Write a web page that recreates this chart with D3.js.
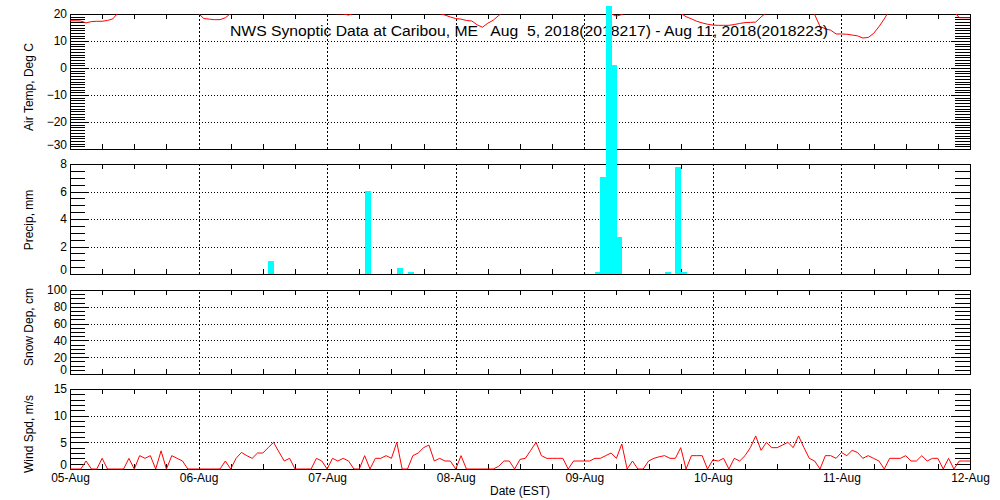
<!DOCTYPE html>
<html><head><meta charset="utf-8">
<script src="https://cdn.jsdelivr.net/npm/d3@7"></script>
<style>
body{margin:0;background:#fff}
svg text{font-family:"Liberation Sans",Arial,sans-serif;fill:#000}
</style>
</head><body>
<svg id="chart" width="1000" height="500"></svg>
<script>
// ---------- DATA (hourly, hour 0 = 05-Aug 00:00 EST) ----------
const dayLabels = ["05-Aug","06-Aug","07-Aug","08-Aug","09-Aug","10-Aug","11-Aug","12-Aug"];
const titleText = "NWS Synoptic Data at Caribou, ME   Aug  5, 2018(2018217) - Aug 11, 2018(2018223)";

const tempAug05 = [17.5,17.5,17.4,16.7,17.2,17.3,17.3,17.6,18.2,20.5,22,23.5,25,26,27,27.5,27.5,27,26,24.5,23,22,21,20.4];
const tempAug06 = [20.1,18.3,18.1,17.9,17.9,18.6,20.2,22,24,26,27.5,28.5,29,29.5,29.5,29,28,26.5,25,23.5,22,21,20.6,20.3];
const tempAug07 = [20.2,20.2,20.1,20.05,19.6,20.3,21.5,23,24.5,26,27,28,28.5,28.5,28,27,26,24.5,23,22,21,20.2,19.6,18.9];
const tempAug08 = [18.3,18.1,17.6,17.4,16.0,15.1,16.6,17.7,19.4,21,22.5,24,25.5,26.5,27.5,28,28.5,28.5,28,27,26,25,24,23];
const tempAug09 = [22.5,21.5,21,20.6,20.3,20.1,19.2,19.8,21,22,23,23.5,24,24,23.5,23,22,21,20.2,19.0,18.2,17.3,16.7,16.2];
const tempAug10 = [15.9,15.8,15.8,15.8,16.1,16.5,16.8,16.9,17.0,18.9,20.5,22,23,24,24.5,25,24.5,23.5,22,19.8,15.4,14.5,14.0,12.6];
const tempAug11 = [12.6,12.5,12.2,11.9,11.1,11.3,12.8,15.3,18.2,21.5,23,24.5,25.5,26.5,27,27,26.5,25.5,24,23,22,21,18.6,18.6];
const tempAug12 = [18.6];

const windAug05 = [0,0,0,1.5,0,0,2.0,0,0,0,0,2.0,0,2.5,2.0,2.5,0,3.4,0,2.5,2.0,1.5,0,0];
const windAug06 = [0,0,0,0,0,1.5,0,2.0,3.1,2.5,2.0,3.0,3.0,4.0,5.0,3.2,1.5,2.0,0,0,0,0,2.0,1.5];
const windAug07 = [0,2.0,1.5,2.0,1.5,0,0,2.5,0,2.0,2.0,2.5,2.0,5.0,0,0,2.5,3.0,4.0,4.5,1.5,2.0,1.5,1.5];
const windAug08 = [0,2.5,0,0,0,0,0,0,0.5,1.5,1.5,0,1.8,2.0,3.5,5.0,2.5,2.0,2.0,2.0,2.0,0,1.5,1.5];
const windAug09 = [1.5,1.5,2.0,2.0,2.5,3.0,2.0,4.7,0,1.5,0,0,1.5,2.0,2.3,2.5,2.0,2.0,4.0,0,2.5,2.5,2.5,0];
const windAug10 = [1.7,1.5,2.0,0,2.0,1.5,2.5,4.0,6.2,3.5,5.0,4.0,4.0,4.5,5.0,4.0,6.2,4.0,2.0,1.5,0,2.5,2.5,2.0];
const windAug11 = [3.1,2.5,3.5,3.1,2.0,2.5,2.0,1.5,0,2.0,2.0,2.0,2.5,1.5,1.5,2.5,1.5,2.0,2.0,0,2.0,0,1.5,1.5];
const windAug12 = [1.5];

const precipHours  = [37, 55, 61, 63, 98, 99, 100, 101, 102, 111, 113, 114];
const precipValues = [0.95, 6.05, 0.45, 0.15, 0.15, 7.05, 19.5, 15.2, 2.7, 0.15, 7.8, 0.15];

const tempTicks   = [-30,-20,-10,0,10,20];
const precipTicks = [0,2,4,6,8];
const snowTicks   = [0,20,40,60,80,100];
const windTicks   = [0,5,10,15];

const airTemp = [].concat(tempAug05,tempAug06,tempAug07,tempAug08,tempAug09,tempAug10,tempAug11,tempAug12);
const windSpd = [].concat(windAug05,windAug06,windAug07,windAug08,windAug09,windAug10,windAug11,windAug12);

// ---------- LAYOUT ----------
const svg = d3.select("#chart");
const X0 = 70, X1 = 970;
const x = d3.scaleLinear().domain([0, 168]).range([X0, X1]);

const panels = [
  {label:"Air Temp, Deg C", y0:14,  y1:149, domain:[-30,20], ticks:tempTicks,   minor:1,   labelY:87},
  {label:"Precip, mm",      y0:164, y1:274, domain:[0,8],    ticks:precipTicks, minor:0.5, labelY:220},
  {label:"Snow Dep, cm",    y0:290, y1:374, domain:[0,100],  ticks:snowTicks,   minor:5,   labelY:327},
  {label:"Wind Spd, m/s",   y0:389, y1:469, domain:[0,15],   ticks:windTicks,   minor:1,   labelY:434}
];

const dayHours = d3.range(0, 169, 24);
const innerDays = dayHours.slice(1, -1);
const sixHours = d3.range(0, 169, 6).filter(h => h % 24 !== 0);

panels.forEach((p, i) => {
  const y = d3.scaleLinear().domain(p.domain).range([p.y1, p.y0]);
  p.y = y;
  const h = p.y1 - p.y0;
  const g = svg.append("g").attr("shape-rendering", "crispEdges");

  // vertical dotted gridlines
  g.append("g").attr("transform", `translate(0,${p.y1})`)
    .call(d3.axisBottom(x).tickValues(innerDays).tickSize(-h).tickFormat(""))
    .call(s => s.select(".domain").remove())
    .call(s => s.selectAll("line").attr("stroke", "#000").attr("stroke-dasharray", "2,2"));

  // horizontal dotted gridlines
  const inner = p.ticks.filter(t => t !== p.domain[0] && t !== p.domain[1]);
  g.append("g").attr("transform", `translate(${X0},0)`)
    .call(d3.axisLeft(y).tickValues(inner).tickSize(-(X1 - X0)).tickFormat(""))
    .call(s => s.select(".domain").remove())
    .call(s => s.selectAll("line").attr("stroke", "#000").attr("stroke-dasharray", "1,2"));

  // minor y ticks left/right
  const n = Math.round((p.domain[1] - p.domain[0]) / p.minor);
  const minors = d3.range(n + 1).map(k => p.domain[0] + k * p.minor);
  g.append("g").attr("transform", `translate(${X0},0)`)
    .call(d3.axisLeft(y).tickValues(minors).tickSize(-15).tickFormat(""))
    .call(s => s.select(".domain").remove());
  g.append("g").attr("transform", `translate(${X1},0)`)
    .call(d3.axisRight(y).tickValues(minors).tickSize(-15).tickFormat(""))
    .call(s => s.select(".domain").remove());

  // major y ticks + labels (bottom label nudged up as in the original)
  g.append("g").attr("transform", `translate(${X0},0)`)
    .call(d3.axisLeft(y).tickValues(p.ticks).tickSize(-19).tickPadding(3).tickFormat(d3.format("d")))
    .call(s => s.select(".domain").remove())
    .call(s => s.selectAll("text").attr("font-size", 12).attr("font-family", null)
      .attr("y", d => d === p.domain[0] ? -4 : 0));
  g.append("g").attr("transform", `translate(${X1},0)`)
    .call(d3.axisRight(y).tickValues(p.ticks).tickSize(-19).tickFormat(""))
    .call(s => s.select(".domain").remove());

  // 6-hour x ticks top & bottom
  g.append("g").attr("transform", `translate(0,${p.y1})`)
    .call(d3.axisBottom(x).tickValues(sixHours).tickSize(-5).tickFormat(""))
    .call(s => s.select(".domain").remove());
  g.append("g").attr("transform", `translate(0,${p.y0})`)
    .call(d3.axisTop(x).tickValues(sixHours).tickSize(-5).tickFormat(""))
    .call(s => s.select(".domain").remove());

  // frame
  g.append("rect").attr("x", X0 + 0.5).attr("y", p.y0 + 0.5)
    .attr("width", X1 - X0).attr("height", h)
    .attr("fill", "none").attr("stroke", "#000").attr("stroke-width", 1);

  // y title
  svg.append("text")
    .attr("transform", `translate(33,${p.labelY}) rotate(-90)`)
    .attr("text-anchor", "middle").attr("font-size", 12).text(p.label);
});

// bottom date axis
svg.append("g").attr("transform", `translate(0,${panels[3].y1})`)
  .call(d3.axisBottom(x).tickValues(dayHours).tickSize(0).tickPadding(4).tickFormat((d, i) => dayLabels[i]))
  .call(s => s.select(".domain").remove())
  .call(s => s.selectAll("text").attr("font-size", 12).attr("font-family", null));

svg.append("text").attr("x", 520).attr("y", 495).attr("text-anchor", "middle")
  .attr("font-size", 12).text("Date (EST)");

// air temperature line (clipped)
const pT = panels[0];
svg.append("clipPath").attr("id", "clipT").append("rect")
  .attr("x", X0).attr("y", pT.y0).attr("width", X1 - X0).attr("height", pT.y1 - pT.y0);
svg.append("path").datum(airTemp)
  .attr("clip-path", "url(#clipT)")
  .attr("fill", "none").attr("stroke", "#ff0000").attr("stroke-width", 1)
  .attr("d", d3.line().x((d, i) => x(i)).y(d => pT.y(d)));

// wind line
const pW = panels[3];
svg.append("path").datum(windSpd)
  .attr("fill", "none").attr("stroke", "#ff0000").attr("stroke-width", 1)
  .attr("d", d3.line().x((d, i) => x(i)).y(d => pW.y(d)));

// title
svg.append("text").attr("x", 230).attr("y", 36)
  .attr("font-size", 14).attr("textLength", 598).attr("lengthAdjust", "spacingAndGlyphs")
  .style("white-space", "pre").attr("xml:space", "preserve")
  .text(titleText);

// precipitation bars (drawn on top, not clipped)
const pP = panels[1];
svg.append("g").attr("shape-rendering", "crispEdges")
  .selectAll("rect").data(precipHours).join("rect")
  .attr("x", h => x(h))
  .attr("width", h => x(h + 1) - x(h) + 0.7)
  .attr("y", (h, i) => pP.y(precipValues[i]))
  .attr("height", (h, i) => pP.y(0) - pP.y(precipValues[i]))
  .attr("fill", "#00ffff");
</script>
</body></html>
